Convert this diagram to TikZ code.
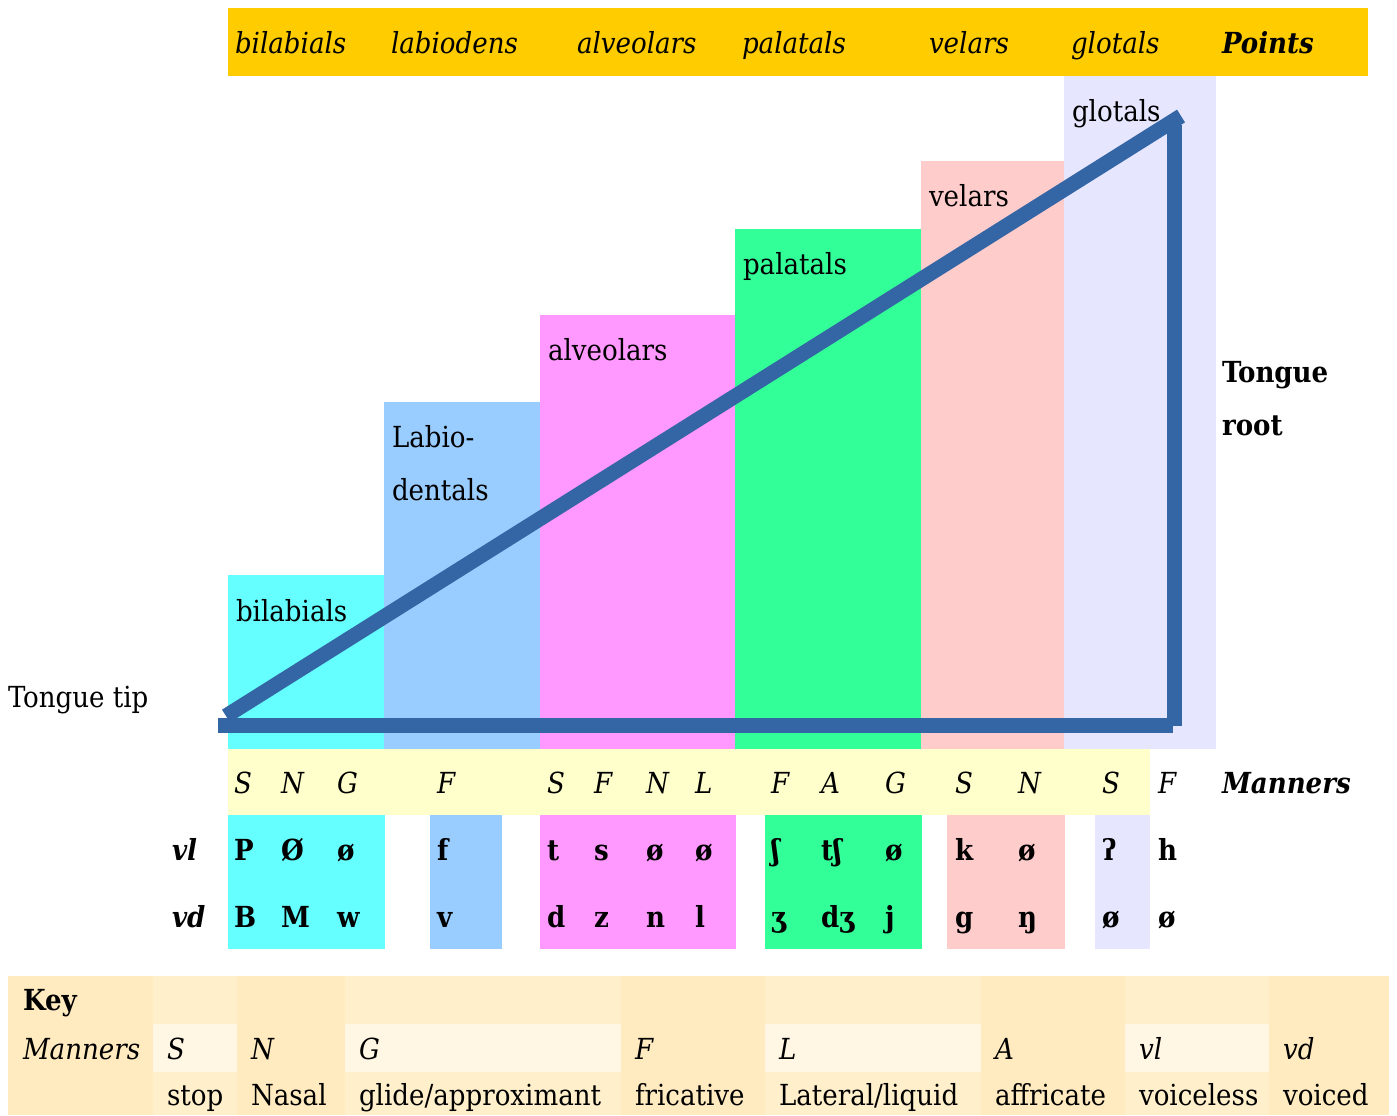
\documentclass[tikz,border=0pt]{standalone}
\usepackage{fontspec}
\setmainfont{DejaVu Serif Condensed}
\newcommand{\ipa}[1]{#1}

\definecolor{pointband}{HTML}{FFCC00}
\definecolor{colbilab}{HTML}{66FFFF}
\definecolor{collabio}{HTML}{99CCFF}
\definecolor{colalveo}{HTML}{FF99FF}
\definecolor{colpalat}{HTML}{33FF99}
\definecolor{colvelar}{HTML}{FFCCCC}
\definecolor{colglot}{HTML}{E6E6FF}
\definecolor{mannerband}{HTML}{FFFFCC}
\definecolor{tongueline}{HTML}{3465A4}
\definecolor{keydark}{HTML}{FFEBBF}
\definecolor{keylight}{HTML}{FFF0CB}
\definecolor{keypale}{HTML}{FFF6E3}

\tikzset{
  txt/.style={anchor=base west, inner sep=0pt, outer sep=0pt,
              font=\fontsize{29bp}{34bp}\selectfont},
  ital/.style={txt, font=\fontsize{29bp}{34bp}\selectfont\itshape},
  bold/.style={txt, font=\fontsize{29bp}{34bp}\selectfont\bfseries},
  boldital/.style={txt, font=\fontsize{29bp}{34bp}\selectfont\bfseries\itshape},
  tongue/.style={draw=tongueline, line width=15bp, line cap=butt},
}

\begin{document}
\begin{tikzpicture}[x=1bp, y=-1bp]
\useasboundingbox (0,0) rectangle (1397,1115);

% header band of articulation points
\fill[pointband] (228,8) rectangle (1368,76);
\foreach \x/\t/\n in {235/bilabials/hbil, 391/labiodens/hlab, 577/alveolars/halv,
                      742/palatals/hpal, 929/velars/hvel, 1071/glotals/hglo}
  \node[ital] (\n) at (\x,53) {\t};
\node[boldital] (hpoints) at (1222,53) {Points};

% staircase of places of articulation
\fill[colbilab] (228,575) rectangle (384,749);
\fill[collabio] (384,402) rectangle (540,749);
\fill[colalveo] (540,315) rectangle (735,749);
\fill[colpalat] (735,229) rectangle (921,749);
\fill[colvelar] (921,161) rectangle (1064,749);
\fill[colglot]  (1064,76) rectangle (1216,749);

\node[txt] (sbil) at (236,621) {bilabials};
\node[txt] (slab1) at (392,447) {Labio-};
\node[txt] (slab2) at (392,500) {dentals};
\node[txt] (salv) at (548,360) {alveolars};
\node[txt] (spal) at (743,274) {palatals};
\node[txt] (svel) at (929,206) {velars};
\node[txt] (sglo) at (1072,121) {glotals};

\node[txt] (tip) at (8,707) {Tongue tip};
\node[bold] (root1) at (1222,382) {Tongue};
\node[bold] (root2) at (1222,435) {root};

% tongue triangle
\coordinate (tipA) at (226,716);
\coordinate (rootTop) at (1181,116);
\coordinate (baseL) at (218,725.5);
\coordinate (baseR) at (1173,725.5);
\coordinate (vertTop) at (1174.5,125);
\coordinate (vertBot) at (1174.5,726);
\draw[tongue] (tipA) -- (rootTop);
\draw[tongue] (baseL) -- (baseR);
\draw[tongue] (vertTop) -- (vertBot);

% manners band
\fill[mannerband] (228,749) rectangle (1150,815);
\foreach \x/\t [count=\i] in {234/S, 281/N, 337/G, 437/F, 547/S, 594/F, 646/N, 695/L,
                             771/F, 821/A, 885/G, 955/S, 1018/N, 1102/S, 1158/F}
  \node[ital] (m\i) at (\x,793) {\t};
\node[boldital] (mlabel) at (1222,793) {Manners};

% voicing rows
\fill[colbilab] (228,815) rectangle (385,949);
\fill[collabio] (430,815) rectangle (502,949);
\fill[colalveo] (540,815) rectangle (736,949);
\fill[colpalat] (765,815) rectangle (922,949);
\fill[colvelar] (947,815) rectangle (1065,949);
\fill[colglot]  (1095,815) rectangle (1150,949);

\node[boldital] (vl) at (172,860) {vl};
\node[boldital] (vd) at (172,927) {vd};

\foreach \x/\t [count=\i] in {234/P, 281/Ø, 337/ø, 437/f, 547/t, 594/s, 646/ø, 695/ø,
                             771/ʃ, 821/tʃ, 885/ø, 955/k, 1018/ø,
                             1102/ʔ, 1158/h}
  \node[bold] (vl\i) at (\x,860) {\t};
\foreach \x/\t [count=\i] in {234/B, 281/M, 337/w, 437/v, 547/d, 594/z, 646/n, 695/l,
                             771/ʒ, 821/dʒ, 885/j, 955/g, 1018/ŋ,
                             1102/ø, 1158/ø}
  \node[bold] (vd\i) at (\x,927) {\t};

% key table
\fill[keydark]  (8,976) rectangle (153,1115);
\fill[keylight] (153,976) rectangle (237,1115);
\fill[keydark]  (237,976) rectangle (345,1115);
\fill[keylight] (345,976) rectangle (621,1115);
\fill[keydark]  (621,976) rectangle (765,1115);
\fill[keylight] (765,976) rectangle (981,1115);
\fill[keydark]  (981,976) rectangle (1125,1115);
\fill[keylight] (1125,976) rectangle (1269,1115);
\fill[keydark]  (1269,976) rectangle (1389,1115);
\foreach \a/\b in {153/237, 345/621, 765/981, 1125/1269}
  \fill[keypale] (\a,1024) rectangle (\b,1072);

\node[bold] (keyhead) at (23,1010) {Key};
\node[ital] (keyman) at (23,1059) {Manners};
\foreach \x/\s/\d [count=\i] in {167/S/stop, 251/N/Nasal, 359/G/glide\slash approximant,
                                635/F/fricative, 779/L/Lateral\slash liquid,
                                995/A/affricate, 1139/vl/voiceless, 1283/vd/voiced}
{
  \node[ital] (ks\i) at (\x,1059) {\s};
  \node[txt]  (kd\i) at (\x,1105) {\d};
}
\end{tikzpicture}
\end{document}
